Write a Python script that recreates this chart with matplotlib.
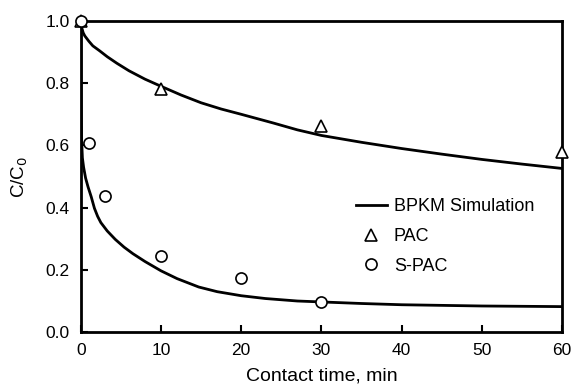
import matplotlib
matplotlib.use('Agg')
import matplotlib.pyplot as plt

plt.rcParams['font.family'] = ['Liberation Sans', 'DejaVu Sans']

# measured data
pac_t = [0, 10, 30, 60]
pac_c = [1.0, 0.782, 0.664, 0.578]

spac_t = [0, 1, 3, 10, 20, 30]
spac_c = [1.0, 0.607, 0.438, 0.246, 0.175, 0.097]

# BPKM simulation curves
sim_pac_t = [0, 0.1, 0.3, 0.5, 1, 1.5, 2.35, 3.3, 4.5, 6, 8, 10, 12.5, 15,
             17.5, 20, 24, 27, 30, 35, 40, 45, 50, 55, 60]
sim_pac_c = [1.0, 0.98, 0.962, 0.952, 0.935, 0.92, 0.904, 0.885, 0.864, 0.84,
             0.813, 0.79, 0.762, 0.737, 0.717, 0.70, 0.672, 0.65, 0.632, 0.61,
             0.59, 0.572, 0.555, 0.54, 0.526]

sim_spac_t = [0, 0.02, 0.05, 0.1, 0.2, 0.35, 0.6, 0.9, 1.3, 1.7, 2.1, 2.5,
              3.3, 4.3, 5.4, 6.5, 8, 10, 12, 14.7, 17, 20, 23, 27, 30, 35,
              40, 50, 60]
sim_spac_c = [1.0, 0.85, 0.72, 0.62, 0.56, 0.53, 0.495, 0.467, 0.435, 0.398,
              0.372, 0.352, 0.325, 0.298, 0.273, 0.252, 0.227, 0.197, 0.172,
              0.145, 0.13, 0.117, 0.108, 0.10, 0.097, 0.092, 0.088, 0.084, 0.082]

fig = plt.figure(figsize=(5.73, 3.88), dpi=100)
ax = fig.add_axes([0.141, 0.144, 0.840, 0.802])

ax.plot(sim_pac_t, sim_pac_c, color='black', lw=2, label='BPKM Simulation')
ax.plot(sim_spac_t, sim_spac_c, color='black', lw=2)
ax.plot(pac_t, pac_c, linestyle='none', marker='^', ms=8, mfc='white',
        mec='black', mew=1.2, label='PAC', clip_on=False, zorder=5)
ax.plot(spac_t, spac_c, linestyle='none', marker='o', ms=8, mfc='white',
        mec='black', mew=1.2, label='S-PAC', clip_on=False, zorder=5)

ax.set_xlim(0, 60)
ax.set_ylim(0, 1.0)
ax.set_xticks([0, 10, 20, 30, 40, 50, 60])
ax.set_yticks([0.0, 0.2, 0.4, 0.6, 0.8, 1.0])
ax.set_yticklabels(['0.0', '0.2', '0.4', '0.6', '0.8', '1.0'])
ax.tick_params(direction='in', length=5, width=1.5, labelsize=12.5, pad=8)
for s in ax.spines.values():
    s.set_linewidth(2)

ax.set_xlabel('Contact time, min', fontsize=14, labelpad=7)
ax.set_ylabel('C/C$_0$', fontsize=13.5, labelpad=11)

ax.legend(loc='upper left', bbox_to_anchor=(0.538, 0.482), frameon=False,
          fontsize=13, handlelength=1.7, handletextpad=0.4, labelspacing=0.7,
          borderpad=0.4)

fig.savefig('out.png', dpi=100)
